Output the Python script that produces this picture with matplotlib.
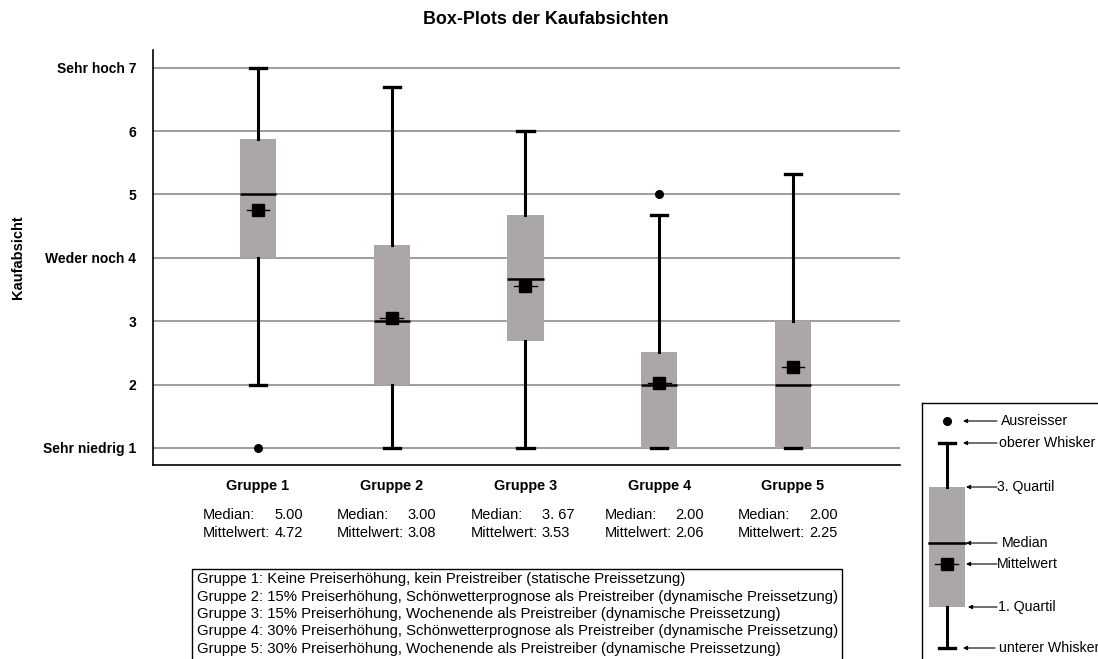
import matplotlib
matplotlib.use("Agg")
import matplotlib.pyplot as plt
import matplotlib.transforms as mtransforms
from matplotlib.patches import Rectangle

plt.rcParams['font.family'] = ['Liberation Sans', 'DejaVu Sans']

groups = ["Gruppe 1", "Gruppe 2", "Gruppe 3", "Gruppe 4", "Gruppe 5"]
whisker_low = [2.0, 1.0, 1.0, 1.0, 1.0]
q1 = [4.0, 2.0, 2.69, 1.0, 1.0]
median = [5.0, 3.0, 3.67, 2.0, 2.0]
q3 = [5.88, 4.2, 4.68, 2.52, 3.0]
whisker_high = [7.0, 6.7, 6.0, 4.67, 5.33]
mean = [4.75, 3.05, 3.56, 2.03, 2.27]
outliers = [[1.0], [], [], [5.0], []]
median_text = ["5.00", "3.00", "3. 67", "2.00", "2.00"]
mean_text = ["4.72", "3.08", "3.53", "2.06", "2.25"]
ytick_vals = [1, 2, 3, 4, 5, 6, 7]
ytick_labels = ["Sehr niedrig 1", "2", "3", "Weder noch 4", "5", "6", "Sehr hoch 7"]
descriptions = [
    "Gruppe 1: Keine Preiserhöhung, kein Preistreiber (statische Preissetzung)",
    "Gruppe 2: 15% Preiserhöhung, Schönwetterprognose als Preistreiber (dynamische Preissetzung)",
    "Gruppe 3: 15% Preiserhöhung, Wochenende als Preistreiber (dynamische Preissetzung)",
    "Gruppe 4: 30% Preiserhöhung, Schönwetterprognose als Preistreiber (dynamische Preissetzung)",
    "Gruppe 5: 30% Preiserhöhung, Wochenende als Preistreiber (dynamische Preissetzung)",
]

box_color = "#aba7a6"
W, H = 1098, 659

fig = plt.figure(figsize=(W / 100, H / 100), dpi=100)
ax = fig.add_axes([153 / W, 1 - 465 / H, (900 - 153) / W, (465 - 50) / H])

stats = []
for i in range(len(groups)):
    stats.append(dict(med=median[i], q1=q1[i], q3=q3[i], whislo=whisker_low[i],
                      whishi=whisker_high[i], mean=mean[i], fliers=outliers[i], label=groups[i]))

positions = list(range(1, len(groups) + 1))
ax.bxp(stats, positions=positions, widths=0.27, patch_artist=True, showmeans=False,
       boxprops=dict(facecolor=box_color, edgecolor="none"),
       medianprops=dict(color="black", linewidth=1.8),
       whiskerprops=dict(color="black", linewidth=2.2),
       capprops=dict(color="black", linewidth=2.4),
       capwidths=0.12,
       flierprops=dict(marker="o", markerfacecolor="black", markeredgecolor="black", markersize=5.5),
       zorder=3)

# mean markers with small horizontal line
for p, m in zip(positions, mean):
    ax.plot([p - 0.085, p + 0.085], [m, m], color="black", linewidth=1, zorder=5)
    ax.plot(p, m, marker="s", color="black", markersize=8.5, zorder=6)

ax.set_xlim(0.215, 5.80)
ax.set_ylim(0.73, 7.28)
ax.set_yticks(ytick_vals)
ax.set_yticklabels(ytick_labels, fontsize=10, fontweight="bold")
ax.set_xticks(positions)
ax.set_xticklabels(groups, fontsize=10.4, fontweight="bold")
ax.tick_params(axis="x", length=0, pad=10)
ax.tick_params(axis="y", length=0, pad=12)
ax.grid(axis="y", color="#8c8c8c", linewidth=1.2, zorder=0)
ax.set_axisbelow(True)
ax.spines["right"].set_visible(False)
ax.spines["top"].set_visible(False)
ax.spines["left"].set_linewidth(1.2)
ax.spines["bottom"].set_linewidth(1.2)

ax.set_ylabel("Kaufabsicht", fontsize=10.5, fontweight="bold")
ax.yaxis.set_label_coords((25 - 153) / (900 - 153), 0.5)

fig.text(0.497, 1 - 20 / H, "Box-Plots der Kaufabsichten", ha="center", va="center",
         fontsize=12.9, fontweight="bold")

# median / mean text under each group
blend = mtransforms.blended_transform_factory(ax.transData, fig.transFigure)
blend_val = mtransforms.offset_copy(blend, fig=fig, x=71, y=0, units="dots")
for p, mt, vt in zip(positions, median_text, mean_text):
    x0 = p - 0.41
    y1 = 1 - 515 / H
    y2 = 1 - 533 / H
    ax.text(x0, y1, "Median:", ha="left", va="center", fontsize=10.5, transform=blend, clip_on=False)
    ax.text(x0, y2, "Mittelwert:", ha="left", va="center", fontsize=10.5, transform=blend, clip_on=False)
    ax.text(x0, y1, mt, ha="left", va="center", fontsize=10.5, transform=blend_val, clip_on=False)
    ax.text(x0, y2, vt, ha="left", va="center", fontsize=10.5, transform=blend_val, clip_on=False)

# description box
fig.patches.append(Rectangle((192 / W, -0.05), (842 - 192) / W, 0.05 + 1 - 569 / H,
                             transform=fig.transFigure, facecolor="white",
                             edgecolor="black", linewidth=1.0))
for k, line in enumerate(descriptions):
    fig.text(197 / W, 1 - (579 + 17.5 * k) / H, line, ha="left", va="center", fontsize=10.7)

# key panel on the right
kx = fig.add_axes([922 / W, -0.05, 0.2, 0.05 + 1 - 403 / H])
kx.set_xlim(922, 922 + 0.2 * W)
kx.set_ylim(659 + 0.05 * H, 403)
kx.set_xticks([])
kx.set_yticks([])
for s in kx.spines.values():
    s.set_linewidth(1.0)

bx = 947
kx.add_patch(Rectangle((929, 487), 36, 120, facecolor=box_color, edgecolor="none", zorder=2))
kx.plot([bx, bx], [443, 487], color="black", linewidth=2.2)
kx.plot([bx, bx], [607, 648], color="black", linewidth=2.2)
kx.plot([939, 955], [443, 443], color="black", linewidth=2.4)
kx.plot([939, 955], [648, 648], color="black", linewidth=2.4)
kx.plot([929, 965], [543, 543], color="black", linewidth=1.8, zorder=3)
kx.plot([935, 958], [564, 564], color="black", linewidth=1, zorder=3)
kx.plot(bx, 564, marker="s", color="black", markersize=8.5, zorder=4)
kx.plot(bx, 421, marker="o", color="black", markersize=5.5)

key_items = [
    ("Ausreisser", 421, 997, 963, 1001),
    ("oberer Whisker", 443, 997, 963, 999),
    ("3. Quartil", 487, 997, 966, 997),
    ("Median", 543, 997, 966, 1002),
    ("Mittelwert", 564, 997, 966, 997),
    ("1. Quartil", 607, 997, 968, 998),
    ("unterer Whisker", 648, 995, 963, 999),
]
for label, yy, x_start, x_end, tx in key_items:
    kx.annotate("", xy=(x_end, yy), xytext=(x_start, yy),
                arrowprops=dict(arrowstyle="-|>", color="black", linewidth=0.8,
                                mutation_scale=6, shrinkA=0, shrinkB=0))
    kx.text(tx, yy, label, ha="left", va="center", fontsize=10.2)

fig.savefig("out.png", dpi=100)
